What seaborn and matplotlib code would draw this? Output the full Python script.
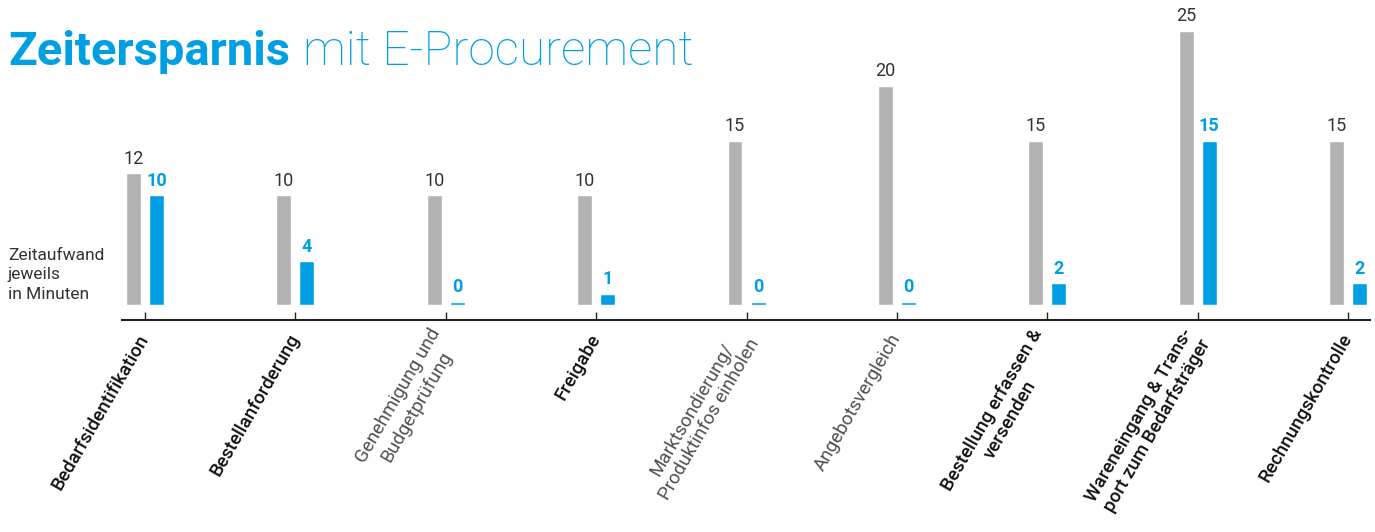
import pandas as pd
import seaborn as sns
import matplotlib.pyplot as plt

# Prozessschritte (Zeilenumbrueche wie im Original)
schritte = [
    "Bedarfsidentifikation",
    "Bestellanforderung",
    "Genehmigung und\nBudgetprüfung",
    "Freigabe",
    "Marktsondierung/\nProduktinfos einholen",
    "Angebotsvergleich",
    "Bestellung erfassen &\nversenden",
    "Wareneingang & Trans-\nport zum Bedarfsträger",
    "Rechnungskontrolle",
]
# Schritte, die im Original fett gesetzt sind
fett = [True, True, False, True, False, False, True, True, True]

ohne_ep = [12, 10, 10, 10, 15, 20, 15, 25, 15]   # Minuten, klassisch
mit_ep = [10, 4, 0, 1, 0, 0, 2, 15, 2]           # Minuten, mit E-Procurement

BLAU = "#009FE3"
GRAU = "#B2B2B2"
TEXT = "#333333"

df = pd.DataFrame({
    "Schritt": schritte * 2,
    "Art": ["ohne"] * len(schritte) + ["mit"] * len(schritte),
    "Minuten": ohne_ep + mit_ep,
})
# Nullwerte als kleiner Strich sichtbar lassen
df["Anzeige"] = df["Minuten"].clip(lower=0.3)

sns.set_theme(style="white")
plt.rcParams["font.family"] = ["Roboto", "DejaVu Sans"]

fig = plt.figure(figsize=(13.75, 5.32), dpi=100)
ax = fig.add_axes([122 / 1375, 1 - 320 / 532, 1248 / 1375, 320 / 532])

sns.barplot(data=df, x="Schritt", y="Anzeige", hue="Art",
            palette={"ohne": GRAU, "mit": BLAU}, width=0.306, gap=0.35,
            legend=False, ax=ax, saturation=1)

ax.set_xlim(-0.153, 8.146)
ax.set_ylim(-1.37, 27.83)

# Wertebeschriftungen
for cont, werte, farbe, gewicht in zip(ax.containers, [ohne_ep, mit_ep],
                                       [TEXT, BLAU], ["normal", "bold"]):
    for bar, w in zip(cont, werte):
        ax.annotate(str(w), (bar.get_x() + bar.get_width() / 2, bar.get_height()),
                    xytext=(0, 4), textcoords="offset points",
                    ha="center", va="bottom", fontsize=13,
                    color=farbe, fontweight=gewicht)

for s in ["top", "right", "left"]:
    ax.spines[s].set_visible(False)
ax.spines["bottom"].set_color("#222222")
ax.spines["bottom"].set_linewidth(1.5)
ax.set_yticks([])
ax.set_xlabel("")
ax.set_ylabel("")
ax.tick_params(axis="x", direction="in", length=6, width=1, color="#222222",
               bottom=True, pad=11)

ax.set_xticks(range(len(schritte)))
ax.set_xticklabels(schritte, rotation=60, ha="right", va="center",
                   rotation_mode="anchor", fontsize=13.5)
for lbl, f in zip(ax.get_xticklabels(), fett):
    lbl.set_multialignment("center")
    if f:
        lbl.set_fontweight("medium")
        lbl.set_color("#111111")
    else:
        lbl.set_fontweight("normal")
        lbl.set_color("#505050")

fig.text(8 / 1375, 1 - 275 / 532, "Zeitaufwand\njeweils\nin Minuten",
         ha="left", va="center", fontsize=12.5, color=TEXT,
         fontweight="normal", linespacing=1.35)

# Titel in zwei Teilen
t1 = fig.text(8 / 1375, 1 - 65 / 532, "Zeitersparnis", fontsize=34,
              fontweight="bold", color=BLAU, ha="left", va="baseline")
fig.canvas.draw()
bb = t1.get_window_extent()
fig.text((bb.x1 + 13) / 1375, 1 - 65 / 532, "mit E-Procurement", fontsize=34.5,
         fontweight="light", color=BLAU, ha="left", va="baseline")

fig.savefig("out.png", dpi=100)
